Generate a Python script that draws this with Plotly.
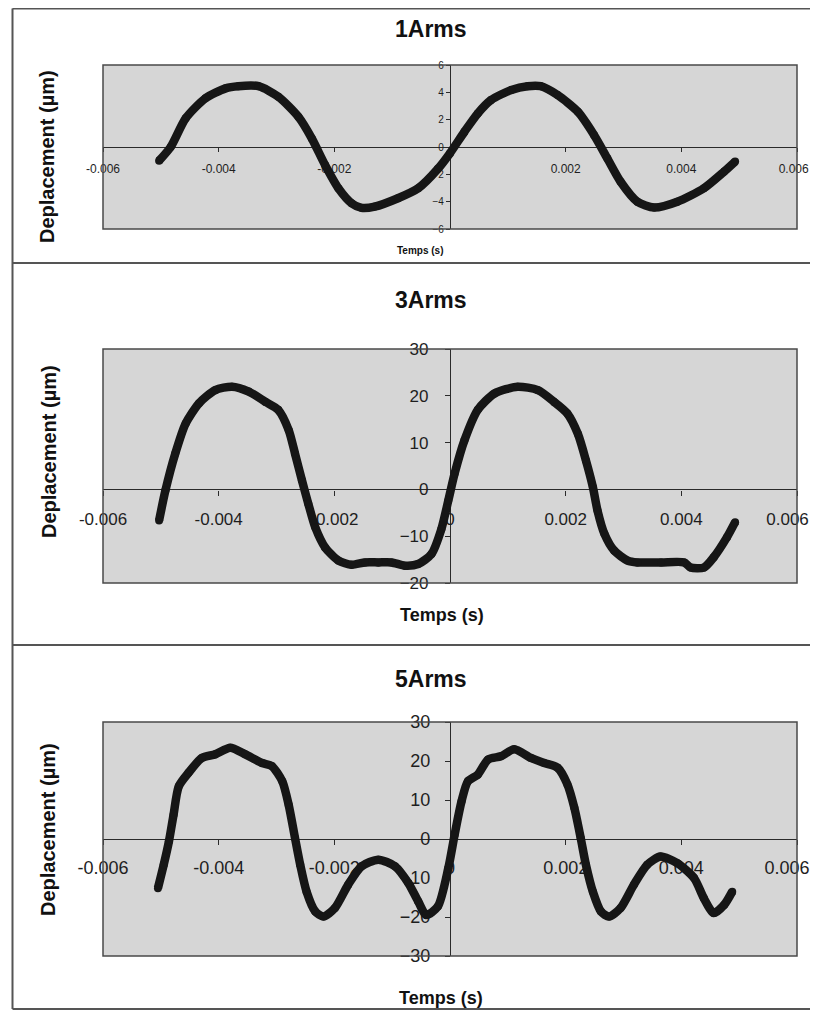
import plotly.graph_objects as go

# page offset (browser body margin) compensation
OFF = 8
W, H = 818 - 2 * OFF, 1018 - 2 * OFF

# ---------------- data ----------------
t_1arms = [-0.00503, -0.00483, -0.00457, -0.00423, -0.00388, -0.00366, -0.00331, -0.00297,
           -0.00262, -0.00239, -0.00216, -0.00193, -0.00170, -0.00153, -0.00130, -0.00090,
           -0.00055, -0.00021, 0.00000, 0.00025, 0.00048, 0.00071, 0.00106, 0.00134,
           0.00157, 0.00186, 0.00221, 0.00249, 0.00272, 0.00295, 0.00324, 0.00353,
           0.00393, 0.00439, 0.00474, 0.00493]
d_1arms = [-1.0, 0.0, 2.1, 3.56, 4.29, 4.45, 4.45, 3.68,
           2.2, 0.63, -1.32, -3.02, -4.12, -4.45, -4.36, -3.75,
           -3.02, -1.6, -0.45, 1.12, 2.46, 3.44, 4.17, 4.45,
           4.45, 3.8, 2.58, 0.88, -0.83, -2.54, -4.0, -4.43,
           -4.0, -3.02, -1.8, -1.07]

t_3arms = [-0.00503, -0.00492, -0.00475, -0.00457, -0.00434, -0.00406, -0.00377, -0.00348,
           -0.00319, -0.00297, -0.00279, -0.00268, -0.00256, -0.00245, -0.00233, -0.00216,
           -0.00193, -0.00170, -0.00147, -0.00124, -0.00101, -0.00078, -0.00055, -0.00032,
           -0.00015, -0.00003, 0.00008, 0.00025, 0.00048, 0.00077, 0.00117, 0.00152,
           0.00180, 0.00203, 0.00221, 0.00235, 0.00247, 0.00255, 0.00267, 0.00284,
           0.00307, 0.00324, 0.00365, 0.00405, 0.00416, 0.00439, 0.00456, 0.00479,
           0.00493]
d_3arms = [-6.65, -0.2, 7.66, 14.1, 18.4, 21.2, 21.95, 20.9,
           18.7, 17.0, 12.7, 7.66, 1.93, -3.07, -8.1, -12.4,
           -15.2, -16.1, -15.6, -15.6, -15.6, -16.3, -15.95, -13.8,
           -8.5, -2.4, 3.4, 10.5, 17.0, 20.5, 21.95, 21.2,
           18.7, 16.2, 11.9, 6.2, 0.5, -4.5, -9.5, -13.1,
           -15.2, -15.6, -15.6, -15.6, -16.7, -16.7, -14.5, -10.2,
           -7.0]

t_5arms = [-0.00505, -0.00495, -0.00486, -0.00478, -0.00469, -0.00452, -0.00429, -0.00406,
           -0.00380, -0.00354, -0.00325, -0.00308, -0.00290, -0.00279, -0.00268, -0.00259,
           -0.00248, -0.00233, -0.00219, -0.00199, -0.00176, -0.00153, -0.00124, -0.00095,
           -0.00072, -0.00055, -0.00041, -0.00021, -0.00003, 0.00008, 0.00020, 0.00031,
           0.00048, 0.00066, 0.00088, 0.00111, 0.00140, 0.00163, 0.00186, 0.00203,
           0.00215, 0.00226, 0.00235, 0.00247, 0.00261, 0.00275, 0.00295, 0.00318,
           0.00341, 0.00364, 0.00393, 0.00422, 0.00439, 0.00456, 0.00474, 0.00488]
d_5arms = [-12.6, -6.6, -0.6, 6.25, 13.5, 17.0, 20.8, 21.7,
           23.4, 21.7, 19.5, 18.7, 14.8, 8.8, 0.26, -6.6,
           -13.5, -18.6, -19.9, -17.7, -11.7, -7.0, -5.3, -7.0,
           -11.3, -16.0, -19.5, -17.3, -7.5, 1.1, 9.7, 14.8,
           16.5, 20.4, 21.2, 23.0, 20.8, 19.5, 18.3, 14.0,
           8.0, 0.26, -6.6, -13.5, -18.6, -19.9, -17.7, -11.7,
           -6.6, -4.5, -6.2, -10.0, -15.2, -19.0, -16.9, -13.5]

titles = ["1Arms", "3Arms", "5Arms"]
x_ticks = [-0.006, -0.004, -0.002, 0, 0.002, 0.004, 0.006]
NB = "\u00a0"
x_ticktext = ["-0.006", "-0.004", "-0.002", "0", "0.002", "0.004", "0.006" + NB * 4]
x_ticktext_1 = ["-0.006", "-0.004", "-0.002", "", "0.002", "0.004", "0.006" + NB * 2]
y_ranges = [[-6, 6], [-20, 30], [-30, 30]]
y_dticks = [2, 10, 10]
y_title = "Deplacement (µm)"
x_title = "Temps (s)"

# ---------------- layout geometry (screen pixels) ----------------
def px(x):
    return (x - OFF) / W

def py(y):
    return 1 - (y - OFF) / H

x_dom = [px(103), px(797)]
panel_px = [(65, 229), (349, 583), (722, 956)]
tick_font = [(12, 10), (17, 17), (18, 18)]
tick_len = [4, 5, 5]
xlab_standoff = [6, 9, 7]
ylab_standoff = [0, 13, 11]
title_y = [28.5, 299.5, 678.5]
ytitle_pos = [(47, 157), (49, 452), (48, 830)]
xtitle_pos = [(421, 251, 10), (442, 615, 18), (441, 998, 18)]

FONT = "Liberation Sans, Arial, sans-serif"
series = [(t_1arms, d_1arms), (t_3arms, d_3arms), (t_5arms, d_5arms)]

fig = go.Figure()
shapes = []
annotations = []

for i, ((t, d), (top, bot)) in enumerate(zip(series, panel_px)):
    n = "" if i == 0 else str(i + 1)
    xa, ya = "x" + n, "y" + n
    fig.add_trace(go.Scatter(
        x=t, y=d, xaxis=xa, yaxis=ya, mode="lines+markers",
        line=dict(color="#161616", width=8.5, shape="spline", smoothing=0.7),
        marker=dict(color="#161616", size=8),
        showlegend=False, hoverinfo="skip"))

    y_dom = [py(bot), py(top)]
    ymin, ymax = y_ranges[i]
    zero_frac = y_dom[0] + (0 - ymin) / (ymax - ymin) * (y_dom[1] - y_dom[0])
    mid_x = 0.5 * (x_dom[0] + x_dom[1])
    fx, fy = tick_font[i]

    fig.layout["xaxis" + n] = dict(
        domain=x_dom, range=[-0.006, 0.006], anchor="free", position=zero_frac,
        tickvals=x_ticks, ticktext=(x_ticktext_1 if i == 0 else x_ticktext),
        showline=True, linecolor="#2a2a2a", linewidth=1.2,
        ticks="outside", ticklen=tick_len[i], tickcolor="#2a2a2a", tickwidth=1,
        showgrid=False, zeroline=False, layer="below traces", automargin=False,
        tickfont=dict(family=FONT, size=fx, color="#1e1e1e"),
        ticklabelstandoff=xlab_standoff[i], ticklabeloverflow="allow",
        fixedrange=True)
    fig.layout["yaxis" + n] = dict(
        domain=y_dom, range=y_ranges[i], anchor="free", position=mid_x,
        dtick=y_dticks[i], tick0=0,
        showline=True, linecolor="#2a2a2a", linewidth=1.2,
        ticks="outside", ticklen=tick_len[i], tickcolor="#2a2a2a", tickwidth=1,
        showgrid=False, zeroline=False, layer="below traces", automargin=False,
        tickfont=dict(family=FONT, size=fy, color="#1e1e1e"),
        ticklabelstandoff=ylab_standoff[i], ticklabeloverflow="allow",
        fixedrange=True)

    # plot-area frame
    shapes.append(dict(type="rect", xref=xa + " domain", yref=ya + " domain",
                       x0=0, x1=1, y0=0, y1=1, line=dict(color="#4a4a4a", width=1.5),
                       layer="above"))

    annotations.append(dict(text="<b>" + titles[i] + "</b>", xref="paper", yref="paper",
                            x=px(431), y=py(title_y[i]), showarrow=False,
                            xanchor="center", yanchor="middle",
                            font=dict(family=FONT, size=23, color="#111")))
    yx, yy = ytitle_pos[i]
    annotations.append(dict(text="<b>" + y_title + "</b>", xref="paper", yref="paper",
                            x=px(yx), y=py(yy), showarrow=False, textangle=-90,
                            xanchor="center", yanchor="middle",
                            font=dict(family=FONT, size=20, color="#111")))
    tx, ty, ts = xtitle_pos[i]
    annotations.append(dict(text="<b>" + x_title + "</b>", xref="paper", yref="paper",
                            x=px(tx), y=py(ty), showarrow=False,
                            xanchor="center", yanchor="middle",
                            font=dict(family=FONT, size=ts, color="#111")))

# outer panel frame lines
frame_col = "#555555"
for yline in (4.5 + OFF / 2, 263, 645, 1009):
    shapes.append(dict(type="line", xref="paper", yref="paper",
                       x0=px(12.5), x1=1, y0=py(yline), y1=py(yline),
                       line=dict(color=frame_col, width=2)))
shapes.append(dict(type="line", xref="paper", yref="paper",
                   x0=px(12.5), x1=px(12.5), y0=py(4.5 + OFF / 2), y1=py(1009),
                   line=dict(color=frame_col, width=2)))

fig.update_layout(
    template="none",
    width=W, height=H, margin=dict(l=0, r=0, t=0, b=0, pad=0, autoexpand=False),
    paper_bgcolor="white", plot_bgcolor="#d6d6d6",
    shapes=shapes, annotations=annotations, showlegend=False)

fig.write_html("out.html")
